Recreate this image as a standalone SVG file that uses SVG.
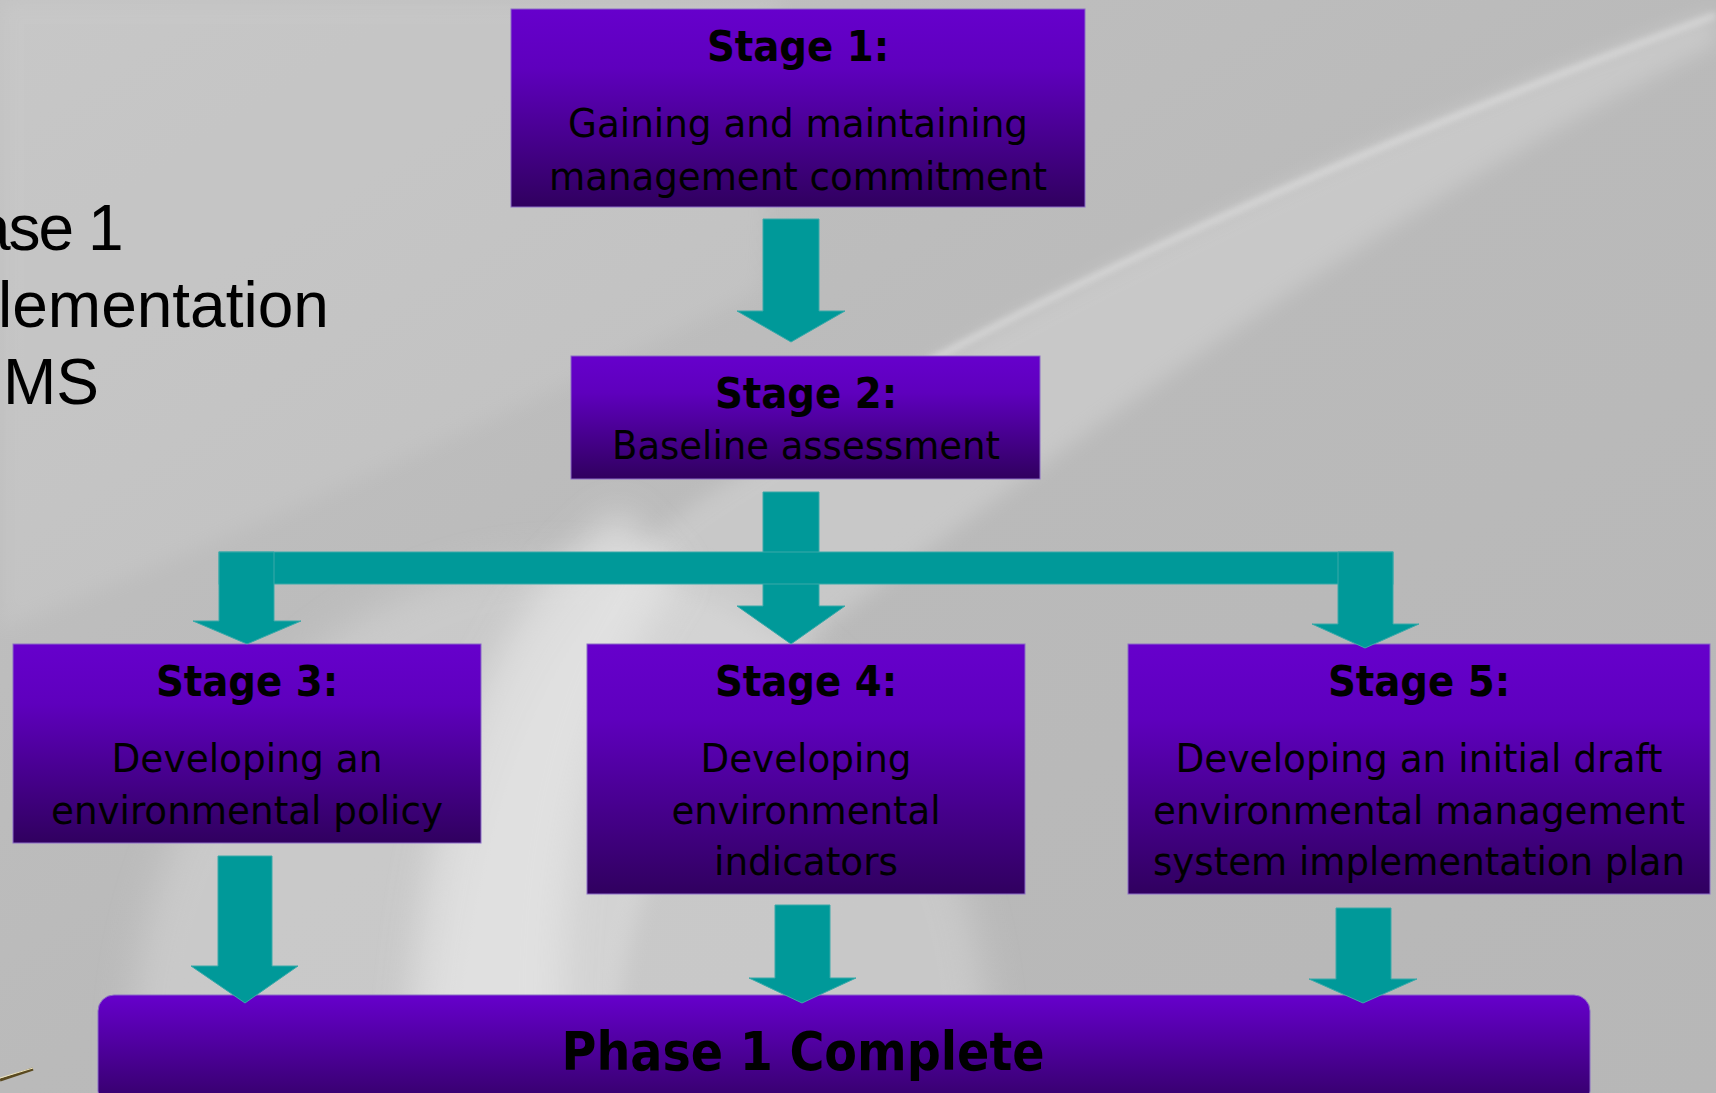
<svg xmlns="http://www.w3.org/2000/svg" width="1716" height="1093" viewBox="0 0 1716 1093">
<defs>
  <linearGradient id="bg" x1="0" y1="0" x2="1" y2="1">
    <stop offset="0" stop-color="#c2c2c2"/>
    <stop offset="0.5" stop-color="#bababa"/>
    <stop offset="1" stop-color="#b7b7b7"/>
  </linearGradient>
  <linearGradient id="box" x1="0" y1="0" x2="0" y2="1">
    <stop offset="0" stop-color="#6600cc"/>
    <stop offset="0.3" stop-color="#5e00bd"/>
    <stop offset="1" stop-color="#30005f"/>
  </linearGradient>
  <linearGradient id="phase" x1="0" y1="0" x2="0" y2="1">
    <stop offset="0" stop-color="#6600cc"/>
    <stop offset="1" stop-color="#330066"/>
  </linearGradient>
  <filter id="soft" x="-20%" y="-20%" width="140%" height="140%">
    <feGaussianBlur stdDeviation="10"/>
  </filter>
  <filter id="soft3" x="-20%" y="-20%" width="140%" height="140%">
    <feGaussianBlur stdDeviation="18"/>
  </filter>
  <filter id="soft2" x="-10%" y="-10%" width="120%" height="120%">
    <feGaussianBlur stdDeviation="3"/>
  </filter>
  <style>
    .node rect { fill: url(#box); stroke: #8b6cc6; stroke-width: 1; }
    .title { font-family: "DejaVu Sans Condensed", "DejaVu Sans", sans-serif; font-weight: bold; font-size: 43px; fill: #000; text-anchor: middle; }
    .body { font-family: "DejaVu Sans Condensed", "DejaVu Sans", sans-serif; font-size: 38.5px; fill: #000; text-anchor: middle; }
    .side { font-family: "Liberation Sans", Arial, sans-serif; font-size: 64px; fill: #000; }
    .arrow { fill: #009999; stroke: #3aa9a9; stroke-width: 1; }
  </style>
</defs>

<!-- background -->
<rect x="0" y="0" width="1716" height="1093" fill="url(#bg)"/>
<path d="M0,0 L780,0 L760,290 C500,420 250,530 0,630 Z" fill="#ffffff" opacity="0.09" filter="url(#soft)"/>
<ellipse cx="560" cy="1060" rx="430" ry="500" fill="#d6d6d6" opacity="0.55" filter="url(#soft3)"/>
<path d="M1716,12 C1350,140 1000,310 700,500 C560,600 470,760 440,1093 L610,1093 C620,880 700,720 860,600 C1100,420 1400,200 1716,45 Z" fill="#ffffff" opacity="0.2" filter="url(#soft)"/>
<path d="M620,510 C490,610 420,780 405,1093 L565,1093 C555,900 575,720 680,575 Z" fill="#e6e6e6" opacity="0.7" filter="url(#soft3)"/>
<path d="M1716,15 C1350,150 1050,290 860,400" fill="none" stroke="#ffffff" stroke-width="6" opacity="0.35" filter="url(#soft2)"/>
<path d="M0,1080 L33,1069" stroke="#5a4a20" stroke-width="3"/>
<path d="M0,1078 L33,1068" stroke="#f0e6c0" stroke-width="1"/>

<!-- side title -->
<g id="side-title">
  <text class="side" x="-25" y="250" letter-spacing="-2">ase 1</text>
  <text class="side" x="-2" y="327">lementation</text>
  <text class="side" x="3" y="404">MS</text>
</g>

<!-- nodes -->
<g id="stage1" class="node">
  <rect x="511" y="9" width="574" height="198"/>
  <text class="title" x="798" y="61">Stage 1:</text>
  <text class="body" x="798" y="137" textLength="460" lengthAdjust="spacingAndGlyphs">Gaining and maintaining</text>
  <text class="body" x="798" y="190" textLength="498" lengthAdjust="spacingAndGlyphs">management commitment</text>
</g>
<g id="stage2" class="node">
  <rect x="571" y="356" width="469" height="123"/>
  <text class="title" x="806" y="408">Stage 2:</text>
  <text class="body" x="806" y="459" textLength="388" lengthAdjust="spacingAndGlyphs">Baseline assessment</text>
</g>
<g id="stage3" class="node">
  <rect x="13" y="644" width="468" height="199"/>
  <text class="title" x="247" y="696">Stage 3:</text>
  <text class="body" x="247" y="772" textLength="271" lengthAdjust="spacingAndGlyphs">Developing an</text>
  <text class="body" x="247" y="824" textLength="392" lengthAdjust="spacingAndGlyphs">environmental policy</text>
</g>
<g id="stage4" class="node">
  <rect x="587" y="644" width="438" height="250"/>
  <text class="title" x="806" y="696">Stage 4:</text>
  <text class="body" x="806" y="772" textLength="211" lengthAdjust="spacingAndGlyphs">Developing</text>
  <text class="body" x="806" y="824" textLength="269" lengthAdjust="spacingAndGlyphs">environmental</text>
  <text class="body" x="806" y="875" textLength="184" lengthAdjust="spacingAndGlyphs">indicators</text>
</g>
<g id="stage5" class="node">
  <rect x="1128" y="644" width="582" height="250"/>
  <text class="title" x="1419" y="696">Stage 5:</text>
  <text class="body" x="1419" y="772" textLength="487" lengthAdjust="spacingAndGlyphs">Developing an initial draft</text>
  <text class="body" x="1419" y="824" textLength="532" lengthAdjust="spacingAndGlyphs">environmental management</text>
  <text class="body" x="1419" y="875" textLength="532" lengthAdjust="spacingAndGlyphs">system implementation plan</text>
</g>
<g id="phase1">
  <rect x="98" y="995" width="1492" height="112" rx="16" fill="url(#phase)" stroke="#8b6cc6" stroke-width="1"/>
  <text x="803" y="1070" font-family="'DejaVu Sans Condensed', 'DejaVu Sans', sans-serif" font-weight="bold" font-size="54" text-anchor="middle" textLength="483" lengthAdjust="spacingAndGlyphs" fill="#000">Phase 1 Complete</text>
</g>

<!-- connectors -->
<g id="connectors">
  <polygon class="arrow" points="763,219 819,219 819,311 845,311 791,342 737,311 763,311"/>
  <polygon class="arrow" points="763,492 819,492 819,606 845,606 791,644 737,606 763,606"/>
  <rect class="arrow" x="219" y="552" width="1174" height="32"/>
  <polygon class="arrow" points="219,552 274,552 274,621 301,621 247,644 193,621 219,621"/>
  <polygon class="arrow" points="1338,552 1393,552 1393,624 1419,624 1365,648 1312,624 1338,624"/>
  <rect x="764" y="553" width="54" height="30" fill="#009999"/>
  <rect x="220" y="553" width="53" height="30" fill="#009999"/>
  <rect x="1339" y="553" width="53" height="30" fill="#009999"/>
  <polygon class="arrow" points="218,856 272,856 272,966 298,966 245,1003 191,966 218,966"/>
  <polygon class="arrow" points="775,905 830,905 830,978 856,978 802,1003 749,978 775,978"/>
  <polygon class="arrow" points="1336,908 1391,908 1391,979 1417,979 1363,1003 1309,979 1336,979"/>
</g>
</svg>
